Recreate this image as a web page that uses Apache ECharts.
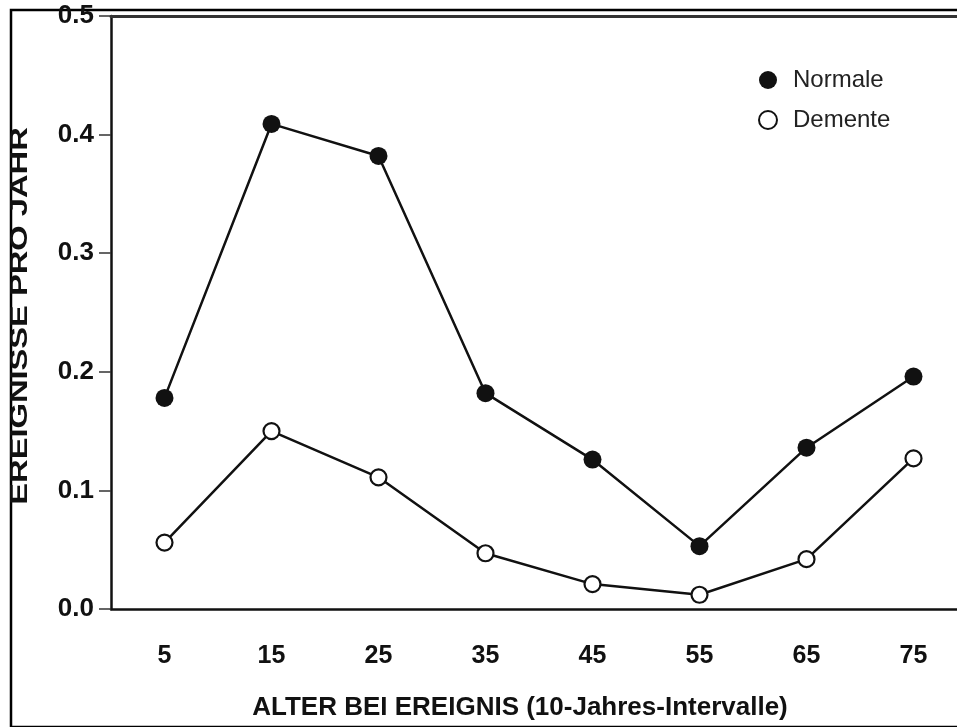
<!DOCTYPE html>
<html>
<head>
<meta charset="utf-8">
<script src="https://cdn.jsdelivr.net/npm/echarts@6/dist/echarts.min.js"></script>
<style>
  html, body { margin: 0; padding: 0; background: #fff; overflow: hidden; }
  /* drawing surface runs a little past the right edge of the window */
  #chart { width: 970px; height: 727px; }
</style>
</head>
<body>
<div id="chart"></div>
<script>
// Age at event, midpoints of 10-year intervals
const ageGroups = ['5', '15', '25', '35', '45', '55', '65', '75'];
// Events per year
const normale = [0.178, 0.409, 0.382, 0.182, 0.126, 0.053, 0.136, 0.196];
const demente = [0.056, 0.150, 0.111, 0.047, 0.021, 0.012, 0.042, 0.127];
const yTicks = { min: 0, max: 0.5, step: 0.1 };

const FONT = '"Liberation Sans", Arial, sans-serif';
const INK = '#111';

const chart = echarts.init(document.getElementById('chart'), null, { renderer: 'canvas' });

chart.setOption({
  backgroundColor: '#fff',
  animation: false,
  grid: { left: 111, top: 16, right: 3, bottom: 118 },
  graphic: [{
    type: 'rect',
    left: 8.5, top: 7.5,
    shape: { width: 990, height: 717 },
    style: { fill: 'none', stroke: '#000', lineWidth: 2.5 },
    silent: true
  }, {
    // vertical axis title, set wide along its reading direction
    type: 'text',
    x: 21, y: 316,
    rotation: Math.PI / 2,
    scaleX: 1.42,
    style: {
      text: 'EREIGNISSE PRO JAHR',
      font: 'bold 23px "Liberation Sans", Arial, sans-serif',
      fill: INK,
      align: 'center',
      verticalAlign: 'middle'
    },
    silent: true
  }],
  legend: {
    orient: 'vertical',
    left: 753, top: 63,
    itemWidth: 18, itemHeight: 18,
    itemGap: 16,
    icon: 'circle',
    textStyle: { fontFamily: FONT, fontSize: 24, color: '#222', padding: [0, 0, 0, 11] },
    data: ['Normale', 'Demente']
  },
  xAxis: [{
    type: 'category',
    data: ageGroups,
    boundaryGap: true,
    position: 'bottom',
    axisLine: { lineStyle: { color: INK, width: 2.5 } },
    axisTick: { alignWithLabel: true, length: 17, lineStyle: { color: '#444', width: 1.5 } },
    axisLabel: { margin: 35, fontFamily: FONT, fontSize: 25, fontWeight: 'bold', color: INK },
    name: 'ALTER BEI EREIGNIS (10-Jahres-Intervalle)',
    nameLocation: 'middle',
    nameGap: 86,
    nameTextStyle: { fontFamily: FONT, fontSize: 26, fontWeight: 'bold', color: INK, padding: [0, 38, 0, 0] },
    splitLine: { show: false }
  }, {
    type: 'category',
    data: ageGroups,
    position: 'top',
    axisLine: { lineStyle: { color: '#333', width: 3 } },
    axisTick: { show: false },
    axisLabel: { show: false },
    splitLine: { show: false }
  }],
  yAxis: {
    type: 'value',
    min: yTicks.min, max: yTicks.max, interval: yTicks.step,
    axisLine: { show: true, lineStyle: { color: INK, width: 2.5 } },
    axisTick: { show: true, length: 12, lineStyle: { color: '#333', width: 1.5 } },
    axisLabel: {
      margin: 17, fontFamily: FONT, fontSize: 26, fontWeight: 'bold', color: INK,
      formatter: v => v.toFixed(1)
    },
    splitLine: { show: false }
  },
  series: [{
    name: 'Normale',
    type: 'line',
    data: normale,
    symbol: 'circle',
    symbolSize: 18,
    lineStyle: { color: INK, width: 2.5 },
    itemStyle: { color: '#111', borderColor: '#111', borderWidth: 0 },
    z: 3
  }, {
    name: 'Demente',
    type: 'line',
    data: demente,
    symbol: 'circle',
    symbolSize: 16,
    lineStyle: { color: INK, width: 2.5 },
    itemStyle: { color: '#fff', borderColor: '#111', borderWidth: 2.2 },
    z: 3
  }]
});
</script>
</body>
</html>
